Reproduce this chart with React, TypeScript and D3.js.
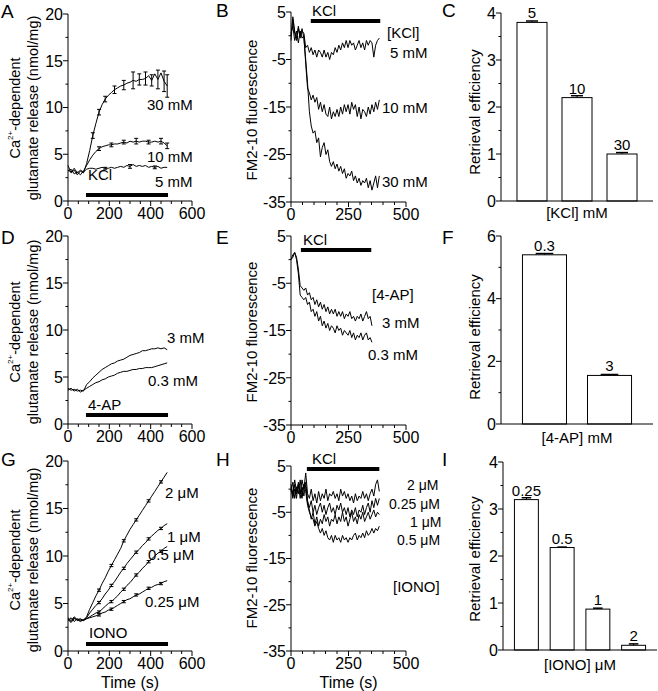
import React from "react";
import * as d3 from "d3";

const FONT = "'Liberation Sans', Arial, Helvetica, sans-serif";

// ---------------- Data ----------------
// Glutamate release traces (nmol/mg), sampled every 15 s from 0 to 480 s
const releaseStep = 15;
const releaseKCl5 = [3.3,3.1,3.5,3.0,3.3,3.1,3.4,3.5,3.5,3.4,3.5,3.6,3.5,3.5,3.6,3.5,3.6,3.7,3.6,3.8,3.7,3.9,3.7,3.8,3.7,3.8,3.6,3.7,3.6,3.7,3.5,3.6,3.6];
const releaseKCl10 = [3.2,3.4,2.9,3.1,2.8,3.2,3.8,4.4,4.9,5.3,5.6,5.8,5.9,6.0,6.0,6.1,6.1,6.2,6.3,6.2,6.4,6.3,6.4,6.3,6.4,6.4,6.3,6.3,6.4,6.3,6.4,6.2,5.9];
const releaseKCl30 = [3.8,3.0,3.3,2.8,3.2,3.0,4.0,5.4,7.0,8.3,9.5,10.3,10.9,11.3,11.6,11.9,12.1,12.3,12.4,12.6,12.7,12.9,12.8,13.0,13.0,13.1,13.4,12.9,13.6,13.0,13.7,12.8,12.3];
const errKCl5 = [0,0,0,0,0,0,0,0,0,0,0,0,0.1,0,0,0,0,0,0,0,0.2,0,0,0,0,0,0,0,0.15,0,0,0,0];
const errKCl10 = [0,0,0,0,0,0,0,0,0,0,0.2,0,0,0,0.2,0,0,0,0.2,0,0,0,0.3,0,0,0,0.2,0,0,0,0.3,0,0.3];
const errKCl30 = [0,0,0,0,0,0,0,0,0.3,0,0.3,0,0.3,0,0,0.4,0,0,0.5,0,0,0.9,0,0.6,0,0.7,0,0.6,0,1.0,0,1.1,1.2];

const release4AP3 = [3.8,3.6,3.7,3.5,3.6,3.5,4.2,4.5,4.9,5.2,5.5,5.8,6.0,6.2,6.4,6.5,6.7,6.8,6.9,7.1,7.3,7.4,7.5,7.6,7.8,7.8,7.9,8.0,8.0,8.1,8.0,8.1,7.9];
const release4AP03 = [3.6,3.8,3.5,3.7,3.4,3.6,3.8,4.0,4.2,4.4,4.5,4.7,4.8,5.0,5.1,5.2,5.4,5.5,5.6,5.6,5.7,5.8,5.8,5.9,5.9,6.0,6.0,6.0,6.1,6.2,6.3,6.4,6.5];

const releaseIono2 = [3.4,3.1,3.5,3.2,3.3,3.2,3.6,4.4,5.1,5.8,6.4,7.1,7.7,8.4,9.0,9.6,10.2,10.8,11.6,12.2,12.8,13.3,13.8,14.3,14.8,15.3,15.8,16.3,16.8,17.3,17.8,18.3,18.8];
const releaseIono1 = [3.2,3.5,3.1,3.4,3.2,3.3,3.5,4.0,4.4,4.8,5.1,5.5,6.0,6.4,6.9,7.3,7.8,8.3,8.7,9.2,9.6,10.0,10.4,10.7,11.1,11.4,11.8,12.1,12.4,12.7,12.9,13.2,13.4];
const releaseIono05 = [3.3,3.0,3.4,3.3,3.1,3.3,3.4,3.6,3.8,4.0,4.1,4.4,4.7,5.0,5.2,5.5,5.8,6.2,6.5,6.9,7.2,7.6,8.0,8.3,8.7,9.0,9.4,9.7,10.0,10.3,10.5,10.8,11.0];
const releaseIono025 = [3.5,3.2,3.6,3.3,3.4,3.2,3.4,3.5,3.6,3.7,3.8,4.0,4.1,4.3,4.4,4.6,4.8,5.0,5.2,5.4,5.5,5.7,5.9,6.0,6.2,6.4,6.6,6.7,6.9,7.0,7.1,7.3,7.4];
const errIono = [0,0,0,0,0,0,0,0,0,0,0.12,0,0,0,0.12,0,0,0,0.12,0,0,0,0.12,0,0,0,0.12,0,0,0,0.12,0,0];

// FM2-10 fluorescence traces, sampled every 8 s
const fmStep = 8;
const fmKCl5 = [0,3.5,0.5,-1,1.5,-0.5,1,0.5,-2.5,-2,-3.5,-2.5,-4,-3,-4.5,-3,-3.5,-4.5,-3,-4.5,-3.5,-5,-3.5,-4,-2.5,-3.5,-2,-3,-1.5,-2.5,-1,-2.5,-1,-2,-1.5,-3,-2,-1,-2.5,-1.5,-3,-1,-2,-1,-1.5,-4.5,-2,-1,-0.5];
const fmKCl10 = [0.5,2,-1,1,-1.5,1,-0.5,0,-6,-11,-12,-13.5,-12.5,-14,-13,-15.5,-14,-16,-14.5,-16.5,-17,-15,-17.5,-16,-17,-15.5,-17,-15,-16.5,-14.5,-16,-14.5,-16.5,-14,-15.5,-14.5,-17,-15,-17.5,-15.5,-16,-17,-15,-16.5,-14.5,-16,-14,-15.5,-13.5];
const fmKCl30 = [-1,4,1,-0.5,2,0,1.5,-0.5,-5,-10,-16,-19,-20.5,-20,-22.5,-21.5,-25.5,-23.5,-22.5,-25,-24,-26.5,-27.5,-26.5,-28,-27,-28.5,-27.5,-29,-28,-30,-29,-29.5,-28.5,-30.5,-29.5,-31,-30,-31.5,-30.5,-31,-30,-32,-30.5,-32.5,-31,-29.5,-32,-29.5];

const fm4AP3 = [0,0.5,1.5,0.5,-2,-5.5,-6,-6.5,-6,-7.5,-7,-8.5,-8,-9.5,-8.5,-10,-9,-10.5,-9.5,-11,-10,-11.5,-10.5,-11.5,-10.5,-12,-11,-12,-11,-12.5,-11.5,-12,-11,-12.5,-12,-13,-12,-12.5,-11.5,-13,-12,-11,-12.5,-12,-14];
const fm4AP03 = [0,1,1.5,0,-3,-7.5,-8,-8.5,-8,-9.5,-9,-11,-10.5,-12,-11,-13,-12,-14,-13,-14.5,-13.5,-15,-14,-14.5,-15.5,-14,-15,-14.5,-16,-15,-15.5,-16,-15,-16.5,-15.5,-17,-16,-16.5,-15.5,-17,-16,-15.5,-17,-16.5,-17.5];

const fmIono2 = [0,-1.5,1,-2,1.5,-1,2,0,3.5,-1,-2,0,-2.5,-1,-3,-0.5,-2.5,-1,-2,0,-2.5,-1,-1.5,-0.5,-2,-1,-2.5,0,-1.5,-0.5,-2,-1,-2.5,-1.5,-3,-1,-2.5,-1.5,-2,-0.5,-2,-1,-2.5,-1,0,-1.5,1,2,-0.5];
const fmIono025 = [1,-1,2,-0.5,1,-2,0.5,-1.5,1.5,-2.5,-4,-2.5,-5,-3.5,-5.5,-4,-3,-5,-3.5,-5.5,-4,-3,-5,-4,-5.5,-3.5,-4.5,-3,-5,-4,-5.5,-4,-6,-4.5,-5.5,-4,-6,-4.5,-5,-3.5,-5.5,-4,-3,-5,-2.5,-4,-2,-3.5,-2];
const fmIono1 = [-0.5,1.5,-2,0.5,-1,2,-1.5,1,0.5,-3,-4.5,-6.5,-5,-7.5,-6,-8,-6.5,-7.5,-5.5,-7,-6,-8,-6.5,-7,-5.5,-7.5,-6,-7,-5,-7,-6,-8,-6.5,-5,-7,-6,-7.5,-5.5,-6.5,-5,-7,-6,-5,-6.5,-5.5,-4.5,-6,-5,-5.5];
const fmIono05 = [0.5,-2,0,-1,1,-0.5,-2,1,-0.5,-3.5,-5,-6,-6.5,-8,-7,-8.5,-9.5,-8.5,-10,-9,-10.5,-11,-10,-11.5,-10,-11,-10.5,-11.5,-10,-11,-10.5,-11.5,-10.5,-11,-10,-9.5,-11,-10,-10.5,-9.5,-10.5,-9,-10,-9.5,-8.5,-9.5,-8.5,-9,-8];

// Stimulus windows (s)
const stimRelease = [87, 484];
const stimFmB = [86, 388];
const stimFmE = [43, 349];
const stimFmH = [69, 384];

// Retrieval efficiency bars
const kclConc = ["5", "10", "30"];
const effKCl = [3.8, 2.2, 1.0];
const effKClErr = [0.03, 0.04, 0.03];
const apConc = ["0.3", "3"];
const eff4AP = [5.4, 1.55];
const eff4APErr = [0.04, 0.03];
const ionoConc = ["0.25", "0.5", "1", "2"];
const effIono = [3.2, 2.18, 0.87, 0.1];
const effIonoErr = [0.04, 0.01, 0.02, 0.03];

// Tick labels
const releaseYTicks = [0, 5, 10, 15, 20];
const releaseXTicks = [0, 200, 400, 600];
const fmYTicks = [5, -5, -15, -25, -35];
const fmXTicks = [0, 250, 500];

// ---------------- Components ----------------
type Trace = { values: number[]; step: number; errors?: number[] };
type Note = { text: string; x: number; y: number; size?: number };

type TraceProps = {
  letter: string; letterPos: [number, number];
  xr: [number, number]; yr: [number, number];
  xd: [number, number]; yd: [number, number];
  xTicks: number[]; xMinorStep: number; yTicks: number[]; yMinorStep: number;
  traces: Trace[];
  stim: number[]; stimY: number; stimLabel: string; stimLabelPos: [number, number];
  notes: Note[];
  caTitle?: boolean; title?: string; titleX: number[]; titleCY: number;
  xTitle?: string; xTitleY?: number;
};

function TracePanel(p: TraceProps) {
  const x = d3.scaleLinear().domain(p.xd).range(p.xr);
  const y = d3.scaleLinear().domain(p.yd).range(p.yr);
  const ax = p.xr[0];
  const ay = p.yr[0];
  const xMinor = d3.range(p.xd[0], p.xd[1] + 0.001, p.xMinorStep).filter((v) => !p.xTicks.includes(v));
  const yMinor = d3.range(p.yd[0], p.yd[1] + 0.001, p.yMinorStep).filter((v) => !p.yTicks.includes(v));
  const cx = (p.xr[0] + p.xr[1]) / 2;
  return (
    <g>
      <text x={p.letterPos[0]} y={p.letterPos[1]} fontSize={19}>{p.letter}</text>
      <line x1={ax} x2={ax} y1={y(p.yd[0])} y2={y(p.yd[1])} stroke="#000" strokeWidth={1} />
      <line x1={ax} x2={p.xr[1]} y1={ay} y2={ay} stroke="#000" strokeWidth={1} />
      {p.yTicks.map((v) => (
        <g key={"yt" + v}>
          <line x1={ax - 5} x2={ax} y1={y(v)} y2={y(v)} stroke="#000" />
          <text x={ax - 5} y={y(v)} dy="0.36em" textAnchor="end" fontSize={16}>{String(v)}</text>
        </g>
      ))}
      {yMinor.map((v) => (
        <line key={"ym" + v} x1={ax - 2.5} x2={ax} y1={y(v)} y2={y(v)} stroke="#000" />
      ))}
      {p.xTicks.map((v) => (
        <g key={"xt" + v}>
          <line x1={x(v)} x2={x(v)} y1={ay} y2={ay + 5} stroke="#000" />
          <text x={x(v)} y={ay + 18} textAnchor="middle" fontSize={16}>{String(v)}</text>
        </g>
      ))}
      {xMinor.map((v) => (
        <line key={"xm" + v} x1={x(v)} x2={x(v)} y1={ay} y2={ay + 3} stroke="#000" />
      ))}
      {p.traces.map((tr, k) => {
        const path = d3.line<number>().x((_, i) => x(i * tr.step)).y((d) => y(d))(tr.values) || "";
        return (
          <g key={"tr" + k}>
            <path d={path} fill="none" stroke="#000" strokeWidth={1} strokeLinejoin="round" />
            {tr.errors && tr.errors.map((e, i) => e > 0 ? (
              <g key={"e" + i}>
                <line x1={x(i * tr.step)} x2={x(i * tr.step)} y1={y(tr.values[i] - e)} y2={y(tr.values[i] + e)} stroke="#000" />
                <line x1={x(i * tr.step) - 2} x2={x(i * tr.step) + 2} y1={y(tr.values[i] + e)} y2={y(tr.values[i] + e)} stroke="#000" />
                <line x1={x(i * tr.step) - 2} x2={x(i * tr.step) + 2} y1={y(tr.values[i] - e)} y2={y(tr.values[i] - e)} stroke="#000" />
              </g>
            ) : null)}
          </g>
        );
      })}
      <rect x={x(p.stim[0])} width={x(p.stim[1]) - x(p.stim[0])} y={p.stimY - 2} height={4} fill="#000" />
      <text x={p.stimLabelPos[0]} y={p.stimLabelPos[1]} fontSize={15}>{p.stimLabel}</text>
      {p.notes.map((n, i) => (
        <text key={"n" + i} x={n.x} y={n.y} fontSize={n.size ?? 15}>{n.text}</text>
      ))}
      {p.caTitle ? (
        <g>
          <text transform={`translate(${p.titleX[0]},${p.titleCY}) rotate(-90)`} textAnchor="middle" fontSize={14.5}>
            Ca<tspan fontSize={8} dy={-7}>2+</tspan><tspan dy={7}>-dependent</tspan>
          </text>
          <text transform={`translate(${p.titleX[1]},${p.titleCY}) rotate(-90)`} textAnchor="middle" fontSize={14.5}>
            glutamate release (nmol/mg)
          </text>
        </g>
      ) : (
        <text transform={`translate(${p.titleX[0]},${p.titleCY}) rotate(-90)`} textAnchor="middle" fontSize={15}>
          {p.title}
        </text>
      )}
      {p.xTitle && (
        <text x={cx} y={p.xTitleY} textAnchor="middle" fontSize={16}>{p.xTitle}</text>
      )}
    </g>
  );
}

type BarProps = {
  letter: string; letterPos: [number, number];
  xr: [number, number]; yr: [number, number]; ymax: number;
  yTicks: number[]; yMinorStep: number;
  cats: string[]; vals: number[]; errs: number[];
  padInner: number; padOuter: number;
  xTitle: React.ReactNode; xTitleY: number;
  titleX: number; titleCY: number;
};

function BarPanel(p: BarProps) {
  const x = d3.scaleBand<string>().domain(p.cats).range(p.xr).paddingInner(p.padInner).paddingOuter(p.padOuter);
  const y = d3.scaleLinear().domain([0, p.ymax]).range(p.yr);
  const ax = p.xr[0];
  const ay = p.yr[0];
  const bw = x.bandwidth();
  const yMinor = d3.range(0, p.ymax + 0.001, p.yMinorStep).filter((v) => !p.yTicks.includes(v));
  return (
    <g>
      <text x={p.letterPos[0]} y={p.letterPos[1]} fontSize={19}>{p.letter}</text>
      {p.cats.map((c, i) => {
        const bx = x(c) as number;
        const top = y(p.vals[i]);
        const et = y(p.vals[i] + p.errs[i]);
        return (
          <g key={c}>
            <rect x={bx} y={top} width={bw} height={ay - top} fill="#fff" stroke="#000" strokeWidth={1} />
            <line x1={bx + bw / 2} x2={bx + bw / 2} y1={top} y2={et} stroke="#000" />
            <line x1={bx + bw * 0.3} x2={bx + bw * 0.7} y1={et} y2={et} stroke="#000" strokeWidth={1.5} />
            <text x={bx + bw / 2} y={top - 4} textAnchor="middle" fontSize={15}>{c}</text>
          </g>
        );
      })}
      <line x1={ax} x2={ax} y1={ay} y2={y(p.ymax)} stroke="#000" />
      <line x1={ax} x2={p.xr[1]} y1={ay} y2={ay} stroke="#000" />
      {p.yTicks.map((v) => (
        <g key={"yt" + v}>
          <line x1={ax - 5} x2={ax} y1={y(v)} y2={y(v)} stroke="#000" />
          <text x={ax - 5} y={y(v)} dy="0.36em" textAnchor="end" fontSize={16}>{String(v)}</text>
        </g>
      ))}
      {yMinor.map((v) => (
        <line key={"ym" + v} x1={ax - 2.5} x2={ax} y1={y(v)} y2={y(v)} stroke="#000" />
      ))}
      <text x={(p.xr[0] + p.xr[1]) / 2} y={p.xTitleY} textAnchor="middle" fontSize={15}>{p.xTitle}</text>
      <text transform={`translate(${p.titleX},${p.titleCY}) rotate(-90)`} textAnchor="middle" fontSize={15}>
        Retrieval efficiency
      </text>
    </g>
  );
}

export default function App() {
  return (
    <svg width={658} height={691} viewBox="0 0 658 691"
      style={{ position: "absolute", left: 0, top: 0, background: "#fff", fontFamily: FONT }}>
      <rect width={658} height={691} fill="#fff" />
      {/* A */}
      <TracePanel letter="A" letterPos={[1, 18]} xr={[68, 192]} yr={[201, 14]} xd={[0, 600]} yd={[0, 20]}
        xTicks={releaseXTicks} xMinorStep={50} yTicks={releaseYTicks} yMinorStep={2.5}
        traces={[
          { values: releaseKCl5, step: releaseStep, errors: errKCl5 },
          { values: releaseKCl10, step: releaseStep, errors: errKCl10 },
          { values: releaseKCl30, step: releaseStep, errors: errKCl30 },
        ]}
        stim={stimRelease} stimY={195} stimLabel="KCl" stimLabelPos={[88, 180]}
        notes={[{ text: "30 mM", x: 147, y: 110 }, { text: "10 mM", x: 147, y: 162 }, { text: "5 mM", x: 155, y: 187 }]}
        caTitle titleX={[20, 38]} titleCY={108} />
      {/* B */}
      <TracePanel letter="B" letterPos={[216, 17]} xr={[291, 406]} yr={[202, 12]} xd={[0, 500]} yd={[-35, 5]}
        xTicks={fmXTicks} xMinorStep={50} yTicks={fmYTicks} yMinorStep={5}
        traces={[
          { values: fmKCl5, step: fmStep },
          { values: fmKCl10, step: fmStep },
          { values: fmKCl30, step: fmStep },
        ]}
        stim={stimFmB} stimY={21} stimLabel="KCl" stimLabelPos={[312, 16]}
        notes={[{ text: "[KCl]", x: 387, y: 38 }, { text: "5 mM", x: 390, y: 58 }, { text: "10 mM", x: 382, y: 113 }, { text: "30 mM", x: 382, y: 187 }]}
        title="FM2-10 fluorescence" titleX={[257]} titleCY={110} />
      {/* C */}
      <BarPanel letter="C" letterPos={[442, 17]} xr={[501, 653]} yr={[201, 13]} ymax={4}
        yTicks={[0, 1, 2, 3, 4]} yMinorStep={0.5} cats={kclConc} vals={effKCl} errs={effKClErr}
        padInner={0.333} padOuter={0.355} xTitle="[KCl] mM" xTitleY={218} titleX={480} titleCY={112} />

      {/* D */}
      <TracePanel letter="D" letterPos={[1, 244]} xr={[68, 192]} yr={[424, 236]} xd={[0, 600]} yd={[0, 20]}
        xTicks={releaseXTicks} xMinorStep={50} yTicks={releaseYTicks} yMinorStep={2.5}
        traces={[
          { values: release4AP3, step: releaseStep },
          { values: release4AP03, step: releaseStep },
        ]}
        stim={stimRelease} stimY={415} stimLabel="4-AP" stimLabelPos={[88, 410]}
        notes={[{ text: "3 mM", x: 167, y: 343 }, { text: "0.3 mM", x: 148, y: 386 }]}
        caTitle titleX={[20, 38]} titleCY={332} />
      {/* E */}
      <TracePanel letter="E" letterPos={[216, 244]} xr={[291, 406]} yr={[425, 236]} xd={[0, 500]} yd={[-35, 5]}
        xTicks={fmXTicks} xMinorStep={50} yTicks={fmYTicks} yMinorStep={5}
        traces={[
          { values: fm4AP3, step: fmStep },
          { values: fm4AP03, step: fmStep },
        ]}
        stim={stimFmE} stimY={250} stimLabel="KCl" stimLabelPos={[303, 245]}
        notes={[{ text: "[4-AP]", x: 372, y: 300 }, { text: "3 mM", x: 382, y: 328 }, { text: "0.3 mM", x: 368, y: 360 }]}
        title="FM2-10 fluorescence" titleX={[257]} titleCY={332} />
      {/* F */}
      <BarPanel letter="F" letterPos={[442, 244]} xr={[501, 653]} yr={[424, 236]} ymax={6}
        yTicks={[0, 2, 4, 6]} yMinorStep={1} cats={apConc} vals={eff4AP} errs={eff4APErr}
        padInner={0.323} padOuter={0.33} xTitle="[4-AP] mM" xTitleY={443} titleX={480} titleCY={337} />

      {/* G */}
      <TracePanel letter="G" letterPos={[1, 466]} xr={[68, 192]} yr={[651, 461]} xd={[0, 600]} yd={[0, 20]}
        xTicks={releaseXTicks} xMinorStep={50} yTicks={releaseYTicks} yMinorStep={2.5}
        traces={[
          { values: releaseIono2, step: releaseStep, errors: errIono },
          { values: releaseIono1, step: releaseStep, errors: errIono },
          { values: releaseIono05, step: releaseStep, errors: errIono },
          { values: releaseIono025, step: releaseStep, errors: errIono },
        ]}
        stim={stimRelease} stimY={644} stimLabel="IONO" stimLabelPos={[89, 638]}
        notes={[
          { text: "2  μM", x: 165, y: 498 }, { text: "1  μM", x: 167, y: 542 },
          { text: "0.5  μM", x: 148, y: 560 }, { text: "0.25  μM", x: 145, y: 607 },
        ]}
        caTitle titleX={[20, 38]} titleCY={560} xTitle="Time (s)" xTitleY={688} />
      {/* H */}
      <TracePanel letter="H" letterPos={[216, 466]} xr={[291, 406]} yr={[651, 466]} xd={[0, 500]} yd={[-35, 5]}
        xTicks={fmXTicks} xMinorStep={50} yTicks={fmYTicks} yMinorStep={5}
        traces={[
          { values: fmIono2, step: fmStep },
          { values: fmIono025, step: fmStep },
          { values: fmIono1, step: fmStep },
          { values: fmIono05, step: fmStep },
        ]}
        stim={stimFmH} stimY={469} stimLabel="KCl" stimLabelPos={[312, 464]}
        notes={[
          { text: "2  μM", x: 407, y: 490, size: 14 }, { text: "0.25  μM", x: 389, y: 509, size: 14 },
          { text: "1  μM", x: 410, y: 527, size: 14 }, { text: "0.5  μM", x: 397, y: 545, size: 14 },
          { text: "[IONO]", x: 393, y: 592 },
        ]}
        title="FM2-10 fluorescence" titleX={[257]} titleCY={558} xTitle="Time (s)" xTitleY={688} />
      {/* I */}
      <BarPanel letter="I" letterPos={[442, 466]} xr={[503, 657]} yr={[650, 462]} ymax={4}
        yTicks={[0, 1, 2, 3, 4]} yMinorStep={0.5} cats={ionoConc} vals={effIono} errs={effIonoErr}
        padInner={0.33} padOuter={0.32} xTitle="[IONO]  μM" xTitleY={670} titleX={480} titleCY={559} />
    </svg>
  );
}
